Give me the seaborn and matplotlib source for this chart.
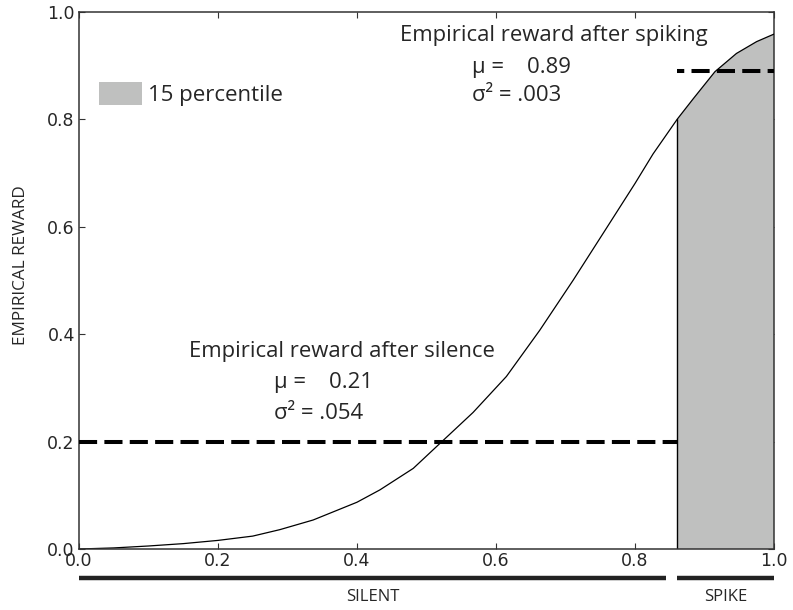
import numpy as np
import matplotlib
matplotlib.use("Agg")
import matplotlib.pyplot as plt
import matplotlib.transforms as mtransforms
from matplotlib.patches import Patch
import seaborn as sns

# curve
curve_x = [0.0, 0.05, 0.1, 0.15, 0.2, 0.25, 0.289, 0.337, 0.4, 0.433, 0.481,
           0.519, 0.567, 0.615, 0.663, 0.711, 0.759, 0.80, 0.826, 0.861,
           0.884, 0.915, 0.946, 0.975, 1.0]
curve_y = [0.0, 0.002, 0.0056, 0.010, 0.016, 0.024, 0.036, 0.054, 0.087,
           0.110, 0.150, 0.196, 0.254, 0.321, 0.407, 0.500, 0.597, 0.680,
           0.735, 0.800, 0.838, 0.888, 0.922, 0.944, 0.958]

spike_start = 0.861
silent_end = 0.845
silence_mean_line = 0.20
spike_mean_line = 0.89

ticks = [0.0, 0.2, 0.4, 0.6, 0.8, 1.0]
tick_labels = ["0.0", "0.2", "0.4", "0.6", "0.8", "1.0"]

txt_font = "Open Sans"
fill_color = "#bfc0bf"

sns.set_style("ticks")
plt.rcParams["font.family"] = ["DejaVu Sans"]

fig = plt.figure(figsize=(7.93, 6.10), dpi=100)
ax = fig.add_axes([0.0996, 0.100, 0.8764, 0.8811])

cx = np.array(curve_x)
cy = np.array(curve_y)
mask = cx >= spike_start
ax.fill_between(cx[mask], 0, cy[mask], facecolor=fill_color,
                edgecolor="none", zorder=1)
ax.plot([spike_start, spike_start], [0, cy[mask][0]], color="black",
        lw=1.0, zorder=2)

sns.lineplot(x=curve_x, y=curve_y, color="black", linewidth=0.9, ax=ax,
             estimator=None, sort=False, zorder=3)

ax.plot([0, spike_start], [silence_mean_line] * 2, color="black", lw=2.9,
        linestyle=(0, (4.5, 1.8)), zorder=4)
ax.plot([spike_start, 1.0], [spike_mean_line] * 2, color="black", lw=2.9,
        linestyle=(2.7, (4.5, 1.8)), zorder=4)

ax.set_xlim(0, 1)
ax.set_ylim(0, 1)
ax.set_xticks(ticks)
ax.set_xticklabels(tick_labels)
ax.set_yticks(ticks)
ax.set_yticklabels(tick_labels)
ax.tick_params(direction="in", length=4, width=0.8, color="#333333",
               labelsize=12.5, top=True, right=True, pad=3)
ax.tick_params(axis="x", pad=2)
for s in ax.spines.values():
    s.set_linewidth(1.1)
    s.set_color("#333333")
ax.spines["bottom"].set_zorder(5)

ax.set_ylabel("EMPIRICAL REWARD", family=txt_font, fontsize=12.3)
ax.yaxis.set_label_coords(-0.072, 0.528)

# annotations
fs = 15.9
ax.text(0.683, 0.955, "Empirical reward after spiking", family=txt_font,
        fontsize=fs, ha="center", va="center")
ax.text(0.565, 0.895, "μ =    0.89", family=txt_font, fontsize=fs,
        ha="left", va="center")
ax.text(0.565, 0.843, "σ² = .003", family=txt_font, fontsize=fs,
        ha="left", va="center")

ax.text(0.378, 0.367, "Empirical reward after silence", family=txt_font,
        fontsize=fs, ha="center", va="center")
ax.text(0.280, 0.310, "μ =    0.21", family=txt_font, fontsize=fs,
        ha="left", va="center")
ax.text(0.280, 0.253, "σ² = .054", family=txt_font, fontsize=fs,
        ha="left", va="center")

# legend
handle = Patch(facecolor=fill_color, edgecolor="none", label="15 percentile")
ax.legend(handles=[handle], loc="center left", bbox_to_anchor=(0.007, 0.847),
          frameon=False, prop={"family": txt_font, "size": 16},
          handlelength=1.9, handleheight=1.2, handletextpad=0.3,
          borderpad=0.2)

# state bars under the x axis
trans = mtransforms.blended_transform_factory(ax.transData, ax.transAxes)
ax.plot([0, silent_end], [-0.054, -0.054], color="#222222", lw=3.2,
        transform=trans, clip_on=False, solid_capstyle="butt")
ax.plot([spike_start, 1.0], [-0.054, -0.054], color="#222222", lw=3.2,
        transform=trans, clip_on=False, solid_capstyle="butt")
ax.text(silent_end / 2, -0.089, "SILENT", family=txt_font, fontsize=12,
        ha="center", va="center", transform=trans)
ax.text((spike_start + 1.0) / 2, -0.089, "SPIKE", family=txt_font,
        fontsize=12, ha="center", va="center", transform=trans)

plt.savefig("out.png", dpi=100)
plt.close()
